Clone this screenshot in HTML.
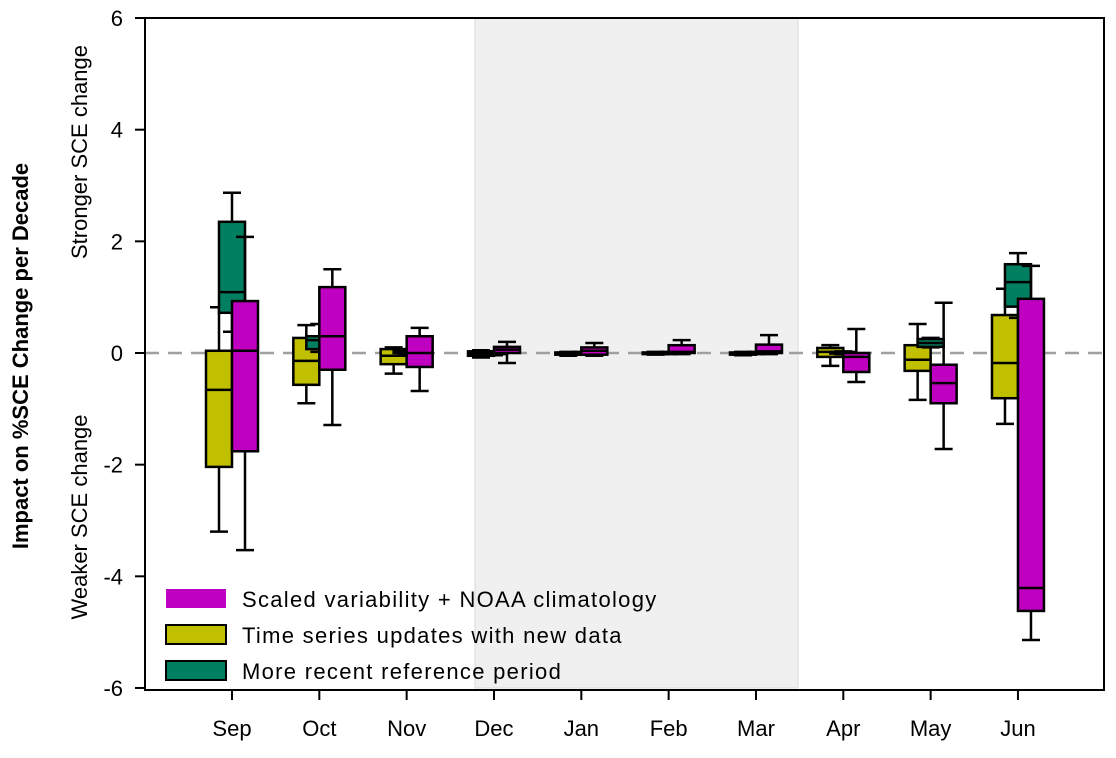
<!DOCTYPE html>
<html><head><meta charset="utf-8"><style>
body{margin:0;background:#fff}
svg text{font-family:"Liberation Sans",sans-serif}
</style></head><body>
<svg id="chart" width="1116" height="753" xmlns="http://www.w3.org/2000/svg">
<rect x="475" y="18" width="323" height="670" fill="#f0f0f0" stroke="#dadada"/>
<g id="marks"></g>
<g>
<rect x="166" y="589" width="60" height="19" fill="#c000c0"/>
<text x="242" y="607" font-size="22" letter-spacing="1.3">Scaled variability + NOAA climatology</text>
<rect x="166" y="625" width="60" height="19" fill="#c0c000" stroke="#000" stroke-width="2"/>
<text x="242" y="643" font-size="22" letter-spacing="1.3">Time series updates with new data</text>
<rect x="166" y="661" width="60" height="19" fill="#008060" stroke="#000" stroke-width="2"/>
<text x="242" y="679" font-size="22" letter-spacing="1.3">More recent reference period</text>
</g>
<text transform="translate(28,356) rotate(-90)" text-anchor="middle" font-size="22" font-weight="bold">Impact on %SCE Change per Decade</text>
<text transform="translate(87,152) rotate(-90)" text-anchor="middle" font-size="22">Stronger SCE change</text>
<text transform="translate(87,517) rotate(-90)" text-anchor="middle" font-size="22">Weaker SCE change</text>
</svg>
<script>
const months=["Sep","Oct","Nov","Dec","Jan","Feb","Mar","Apr","May","Jun"];
const yTicks=[6,4,2,0,-2,-4,-6];
// [whiskerLow, q1, median, q3, whiskerHigh]
const timeSeries=[[-3.2,-2.04,-0.66,0.04,0.82],[-0.9,-0.57,-0.14,0.27,0.5],[-0.37,-0.2,-0.05,0.07,0.1],[-0.08,-0.05,-0.01,0.03,0.05],[-0.05,-0.03,-0.01,0.01,0.02],[-0.03,-0.02,0,0.01,0.02],[-0.04,-0.03,-0.01,0.01,0.02],[-0.23,-0.07,0.02,0.09,0.14],[-0.84,-0.32,-0.12,0.14,0.52],[-1.27,-0.81,-0.18,0.68,1.15]];
const refPeriod=[[0.38,0.72,1.09,2.35,2.87],[0.02,0.07,0.23,0.3,0.52],[-0.01,0,0.02,0.05,0.06],[-0.04,-0.02,0,0.02,0.03],[-0.03,-0.02,0,0.01,0.02],[-0.02,-0.01,0,0.01,0.02],[-0.02,-0.01,0,0.01,0.02],[-0.02,-0.01,0,0.02,0.03],[0.1,0.11,0.18,0.25,0.27],[0.63,0.83,1.27,1.59,1.79]];
const scaled=[[-3.53,-1.76,0.04,0.93,2.08],[-1.29,-0.3,0.3,1.18,1.5],[-0.68,-0.25,0,0.3,0.45],[-0.18,0,0.06,0.11,0.2],[-0.05,-0.03,0.04,0.1,0.18],[-0.02,0,0.02,0.14,0.23],[-0.02,0,0.03,0.15,0.32],[-0.52,-0.34,-0.07,0,0.43],[-1.72,-0.9,-0.54,-0.21,0.9],[-5.14,-4.62,-4.21,0.97,1.56]];
const NS="http://www.w3.org/2000/svg";
const svg=document.getElementById('chart');
const marks=document.getElementById('marks');
const y=v=>353-v*55.83;
const x=i=>232+i*87.33;
function mk(tag,attrs,parent){const e=document.createElementNS(NS,tag);for(const k in attrs)e.setAttribute(k,attrs[k]);(parent||marks).appendChild(e);return e;}
let zl=mk('line',{x1:145,x2:1104,y1:y(0),y2:y(0),stroke:'#a0a0a0','stroke-width':2.5,'stroke-dasharray':'14,9'});


const series=[{d:timeSeries,c:"#c0c000",o:-13,n:"timeseries"},{d:refPeriod,c:"#008060",o:0,n:"reference"},{d:scaled,c:"#c000c0",o:13,n:"scaled"}];
series.forEach(s=>{
 s.d.forEach((b,i)=>{
  const cx=x(i)+s.o, w=26;
  const g=mk('g',{});
  
  
  const st={stroke:'#000','stroke-width':2.5};
  mk('line',Object.assign({x1:cx,x2:cx,y1:y(b[4]),y2:y(b[3])},st),g);
  mk('line',Object.assign({x1:cx,x2:cx,y1:y(b[1]),y2:y(b[0])},st),g);
  mk('line',Object.assign({x1:cx-9,x2:cx+9,y1:y(b[4]),y2:y(b[4])},st),g);
  mk('line',Object.assign({x1:cx-9,x2:cx+9,y1:y(b[0]),y2:y(b[0])},st),g);
  mk('rect',Object.assign({x:cx-w/2,y:y(b[3]),width:w,height:Math.max(1,y(b[1])-y(b[3])),fill:s.c},st),g);
  mk('line',Object.assign({x1:cx-w/2,x2:cx+w/2,y1:y(b[2]),y2:y(b[2])},st),g);
 });
});
const ax=mk('g',{},svg);


mk('path',{d:'M145,18 H1104 V690 H145 Z',fill:'none',stroke:'#000','stroke-width':2},ax);
yTicks.forEach(t=>{
 mk('line',{x1:135,x2:145,y1:y(t),y2:y(t),stroke:'#000','stroke-width':2},ax);
 const tx=mk('text',{x:123,y:y(t)+8,'text-anchor':'end','font-size':22},ax);
 tx.textContent=t;
 
 
});
months.forEach((m,i)=>{
 mk('line',{x1:x(i),x2:x(i),y1:690,y2:700,stroke:'#000','stroke-width':2},ax);
 const tx=mk('text',{x:x(i),y:736,'text-anchor':'middle','font-size':22},ax);
 tx.textContent=m;
 
 
});
</script>
</body></html>
